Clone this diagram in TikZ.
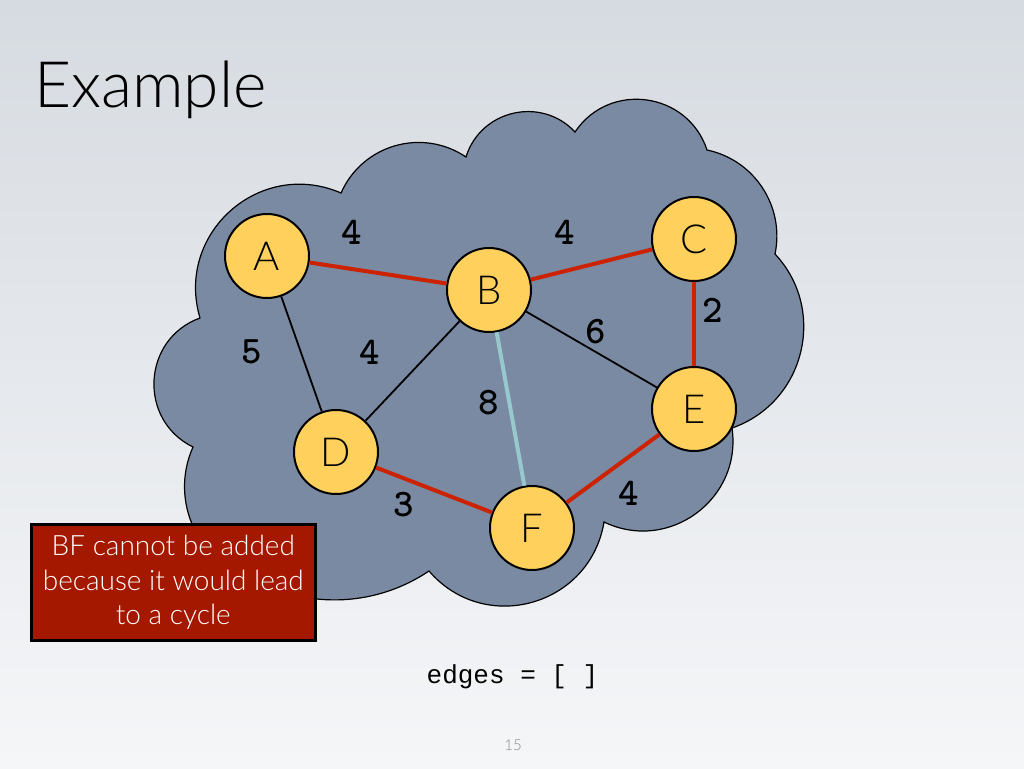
\documentclass[tikz,border=0pt]{standalone}
\usepackage{fontspec}
\setmainfont{Lato Light}
\newfontfamily\codefont{Liberation Mono}
\definecolor{bgtop}{RGB}{214,219,225}
\definecolor{bgmid}{RGB}{232,234,238}
\definecolor{bgbottom}{RGB}{245,246,248}
\definecolor{cloudgray}{RGB}{122,138,162}
\definecolor{nodeyellow}{RGB}{255,209,92}
\definecolor{edgered}{RGB}{204,34,0}
\definecolor{edgeblue}{RGB}{150,200,206}
\definecolor{boxred}{RGB}{165,24,0}
\definecolor{pagenum}{RGB}{135,135,135}
\begin{document}
\begin{tikzpicture}[x=1pt,y=-1pt,
  vertex/.style={circle, draw=black, line width=2pt, fill=nodeyellow,
    minimum size=84pt, inner sep=0pt, font=\fontsize{40}{40}\selectfont},
  chosen/.style={draw=edgered, line width=4pt},
  plain/.style={draw=black, line width=1.8pt},
  rejected/.style={draw=edgeblue, line width=4pt},
  weight/.style={font=\ttfamily\bfseries\fontsize{39}{39}\selectfont, inner sep=0pt},
  cloudshape/.style={fill=cloudgray, draw=black, line width=1.2pt},
]
\useasboundingbox (0,0) rectangle (1024,768);
% slide background
\shade[top color=bgtop, middle color=bgmid, bottom color=bgbottom]
  (0,0) rectangle (1024,768);

% title
\node[anchor=base west, inner sep=0pt, font=\fontsize{64}{64}\selectfont]
  (title) at (34,107) {Example};

% cloud outline: cusps between the bumps
\coordinate (c1)  at (200,318);
\coordinate (c2)  at (341,193);
\coordinate (c3)  at (466,157);
\coordinate (c4)  at (575,132);
\coordinate (c5)  at (707,150);
\coordinate (c6)  at (775,254);
\coordinate (c7)  at (732,428);
\coordinate (c8)  at (604,522);
\coordinate (c9)  at (429,571);
\coordinate (c10) at (255,580);
\coordinate (c11) at (193,447);
\draw[cloudshape] (c1)
  to[bend left=65, looseness=1.2]  (c2)
  to[bend left=50, looseness=1.04] (c3)
  to[bend left=60, looseness=1.13] (c4)
  to[bend left=64, looseness=1.18] (c5)
  to[bend left=45, looseness=1.0]  (c6)
  to[bend left=57, looseness=1.1]  (c7)
  to[bend left=62, looseness=1.16] (c8)
  to[bend left=65, looseness=1.2]  (c9)
  to[bend left=31, looseness=0.92] (c10)
  to[bend left=49, looseness=1.03] (c11)
  to[bend left=67, looseness=1.22] (c1) -- cycle;

% graph vertices
\node[vertex] (A) at (267,256) {A};
\node[vertex] (B) at (489,290) {B};
\node[vertex] (C) at (694,239) {C};
\node[vertex] (D) at (336,452) {D};
\node[vertex] (E) at (694,409) {E};
\node[vertex] (F) at (532,528) {F};

% edges
\draw[chosen] (A) -- (B);
\draw[chosen] (B) -- (C);
\draw[chosen, line width=3.2pt] (C) -- (E);
\draw[chosen] (D) -- (F);
\draw[chosen] (F) -- (E);
\draw[plain] (A) -- (D);
\draw[plain] (B) -- (D);
\draw[plain] (B) -- (E);
\draw[rejected] (B) -- (F);

% edge weights
\node[weight] (wAB) at (352,232) {4};
\node[weight] (wBC) at (565,232) {4};
\node[weight] (wCE) at (713,310) {2};
\node[weight] (wAD) at (252,352) {5};
\node[weight] (wBD) at (369.5,352) {4};
\node[weight] (wBE) at (595.5,332) {6};
\node[weight] (wBF) at (488.5,403) {8};
\node[weight] (wDF) at (404,505) {3};
\node[weight] (wEF) at (629,493) {4};

% explanation box
\node[draw=black, line width=3pt, fill=boxred, text=white,
  minimum width=283.7pt, minimum height=115.4pt, inner sep=0pt,
  align=center, font=\fontsize{28}{34.5}\selectfont]
  (note) at (173.3,582.5) {BF cannot be added\\because it would lead\\to a cycle};

% code line and page number
\node[font=\codefont\fontsize{26}{26}\selectfont, anchor=base, inner sep=0pt]
  (code) at (512.5,683) {edges = [ ]};
\node[font=\fontsize{15}{15}\selectfont, text=pagenum, inner sep=0pt]
  (page) at (513,745) {15};
\end{tikzpicture}
\end{document}
